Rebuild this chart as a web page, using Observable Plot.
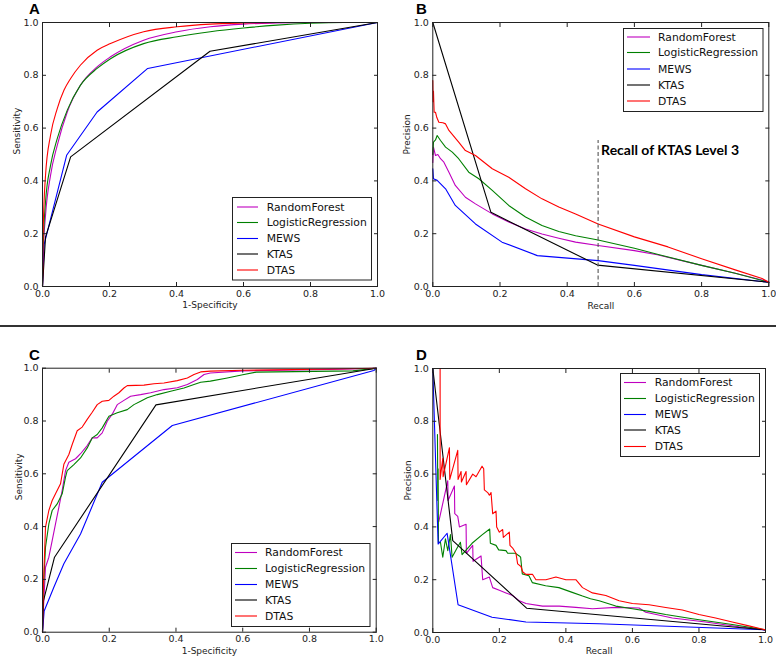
<!DOCTYPE html>
<html><head><meta charset="utf-8">
<script src="https://cdn.jsdelivr.net/npm/d3@7"></script>
<script src="https://cdn.jsdelivr.net/npm/@observablehq/plot@0.6"></script>
<style>
body{margin:0;background:#fff;}
#wrap{position:relative;width:776px;height:659px;overflow:hidden;background:#fff;font-family:"DejaVu Sans",sans-serif;}
.panel{position:absolute;}
#overlay{position:absolute;left:0;top:0;}
</style>
</head><body><div id="wrap"></div>
<script>
// ---------- series names & colours ----------
const SERIES = ["RandomForest","LogisticRegression","MEWS","KTAS","DTAS"];
const COLORS = ["#bf00bf","#008000","#0000ff","#000000","#ff0000"];
const TICKS = [0,0.2,0.4,0.6,0.8,1.0];

// ---------- Panel A : ROC (x = 1-Specificity, y = Sensitivity) ----------
const A_RF = [[0,0],[0.002,0.118],[0.009,0.269],[0.024,0.421],[0.044,0.535],[0.074,0.661],[0.113,0.762],[0.163,0.832],[0.203,0.87],[0.302,0.933],[0.402,0.965],[0.501,0.984],[0.6,0.994],[0.7,0.998],[0.8,1.0],[1,1]];
const A_LR = [[0,0],[0.002,0.143],[0.009,0.32],[0.024,0.459],[0.044,0.56],[0.074,0.668],[0.113,0.762],[0.163,0.826],[0.203,0.863],[0.302,0.92],[0.402,0.946],[0.501,0.965],[0.6,0.979],[0.7,0.99],[0.8,0.997],[0.9,1.0],[1,1]];
const A_MEWS = [[0,0],[0.005,0.16],[0.072,0.497],[0.163,0.661],[0.314,0.826],[1,1]];
const A_KTAS = [[0,0],[0.009,0.187],[0.084,0.491],[0.5,0.891],[1,1]];
const A_DTAS = [[0,0],[0.002,0.21],[0.009,0.42],[0.024,0.573],[0.044,0.674],[0.064,0.743],[0.084,0.788],[0.113,0.838],[0.163,0.895],[0.203,0.92],[0.302,0.965],[0.402,0.984],[0.501,0.994],[0.6,0.998],[0.7,1.0],[1,1]];

// ---------- Panel B : Precision-Recall ----------
const B_RF = [[0,0.47],[0.002,0.528],[0.008,0.496],[0.015,0.5],[0.023,0.484],[0.033,0.471],[0.048,0.433],[0.067,0.383],[0.097,0.338],[0.127,0.313],[0.177,0.275],[0.226,0.244],[0.276,0.218],[0.325,0.199],[0.375,0.183],[0.425,0.168],[0.492,0.155],[0.6,0.136],[0.668,0.12],[0.8,0.08],[0.9,0.05],[1,0.018]];
const B_LR = [[0,0.5],[0.002,0.547],[0.008,0.555],[0.013,0.572],[0.023,0.553],[0.038,0.528],[0.058,0.509],[0.077,0.484],[0.107,0.433],[0.137,0.408],[0.177,0.364],[0.226,0.307],[0.276,0.263],[0.325,0.231],[0.375,0.208],[0.425,0.192],[0.492,0.176],[0.6,0.145],[0.668,0.122],[0.8,0.08],[0.9,0.05],[1,0.016]];
const B_MEWS = [[0,0.446],[0.002,0.408],[0.013,0.402],[0.038,0.37],[0.067,0.307],[0.127,0.237],[0.206,0.168],[0.311,0.117],[0.492,0.098],[0.6,0.08],[0.8,0.045],[1,0.016]];
const B_KTAS = [[0,1],[0.173,0.281],[0.49,0.081],[1,0.016]];
const B_DTAS = [[0,0.78],[0.001,0.7],[0.002,0.74],[0.004,0.66],[0.008,0.66],[0.012,0.64],[0.018,0.622],[0.03,0.62],[0.038,0.616],[0.048,0.591],[0.077,0.547],[0.097,0.515],[0.127,0.496],[0.177,0.446],[0.226,0.414],[0.276,0.37],[0.325,0.332],[0.375,0.301],[0.425,0.275],[0.492,0.237],[0.6,0.188],[0.7,0.15],[0.8,0.105],[0.9,0.063],[0.98,0.03],[1,0.016]];
const B_KTAS_LEVEL3_RECALL = 0.492;
const B_MARKER_TOP = 0.553;
const B_NOTE = "Recall of KTAS Level 3";

// ---------- Panel C : ROC (external validation) ----------
const C_RF = [[0,0],[0.002,0.069],[0.009,0.246],[0.019,0.284],[0.029,0.347],[0.039,0.41],[0.049,0.473],[0.059,0.537],[0.069,0.612],[0.079,0.644],[0.099,0.657],[0.114,0.676],[0.134,0.707],[0.149,0.736],[0.164,0.736],[0.179,0.755],[0.194,0.799],[0.209,0.826],[0.224,0.862],[0.244,0.878],[0.264,0.894],[0.294,0.9],[0.324,0.907],[0.364,0.919],[0.404,0.926],[0.434,0.938],[0.464,0.957],[0.484,0.976],[0.503,0.982],[0.6,0.99],[0.9,0.996],[1,1]];
const C_LR = [[0,0],[0.002,0.145],[0.009,0.322],[0.019,0.41],[0.029,0.461],[0.044,0.486],[0.059,0.524],[0.069,0.587],[0.074,0.612],[0.094,0.635],[0.114,0.66],[0.134,0.698],[0.149,0.736],[0.164,0.749],[0.179,0.774],[0.199,0.818],[0.224,0.831],[0.254,0.843],[0.274,0.862],[0.294,0.875],[0.314,0.888],[0.344,0.9],[0.384,0.913],[0.424,0.925],[0.454,0.938],[0.474,0.947],[0.503,0.951],[0.55,0.962],[0.6,0.975],[0.64,0.985],[0.93,0.99],[1,1]];
const C_MEWS = [[0,0],[0.005,0.08],[0.034,0.17],[0.064,0.259],[0.114,0.372],[0.179,0.568],[0.389,0.783],[0.993,0.991],[1,1]];
const C_KTAS = [[0,0],[0.003,0.12],[0.036,0.284],[0.34,0.861],[1,1]];
const C_DTAS = [[0,0],[0.002,0.15],[0.004,0.221],[0.009,0.398],[0.019,0.461],[0.029,0.499],[0.039,0.524],[0.054,0.562],[0.064,0.636],[0.079,0.673],[0.089,0.711],[0.104,0.763],[0.119,0.777],[0.134,0.806],[0.149,0.833],[0.164,0.862],[0.179,0.875],[0.199,0.878],[0.214,0.894],[0.229,0.907],[0.244,0.925],[0.254,0.934],[0.304,0.936],[0.334,0.941],[0.364,0.944],[0.404,0.953],[0.434,0.963],[0.454,0.976],[0.474,0.986],[0.503,0.989],[0.6,0.992],[0.87,0.997],[1,1]];

// ---------- Panel D : Precision-Recall (external validation) ----------
const D_RF = [[0.018,0.42],[0.045,0.575],[0.046,0.5],[0.065,0.555],[0.066,0.45],[0.075,0.44],[0.08,0.40],[0.1,0.41],[0.101,0.30],[0.12,0.33],[0.121,0.27],[0.145,0.29],[0.15,0.2],[0.17,0.21],[0.18,0.17],[0.2,0.16],[0.22,0.15],[0.24,0.14],[0.26,0.12],[0.28,0.11],[0.33,0.1],[0.38,0.1],[0.43,0.095],[0.48,0.09],[0.55,0.095],[0.62,0.093],[0.64,0.077],[0.72,0.055],[0.82,0.04],[0.92,0.022],[1,0.01]];
const D_LR = [[0.014,0.75],[0.015,0.5],[0.016,0.62],[0.017,0.34],[0.023,0.342],[0.03,0.285],[0.038,0.355],[0.045,0.31],[0.053,0.371],[0.058,0.285],[0.073,0.32],[0.083,0.342],[0.088,0.295],[0.118,0.338],[0.148,0.37],[0.171,0.392],[0.173,0.338],[0.19,0.33],[0.198,0.313],[0.22,0.31],[0.225,0.3],[0.248,0.3],[0.26,0.29],[0.264,0.285],[0.269,0.222],[0.289,0.215],[0.299,0.189],[0.339,0.177],[0.379,0.17],[0.419,0.152],[0.45,0.138],[0.474,0.128],[0.5,0.12],[0.55,0.1],[0.6,0.09],[0.65,0.08],[0.7,0.068],[0.78,0.052],[0.9,0.03],[1,0.01]];
const D_MEWS = [[0,1],[0.016,0.335],[0.043,0.376],[0.076,0.105],[0.178,0.058],[0.28,0.04],[0.5,0.033],[1,0.01]];
const D_KTAS = [[0,1],[0.06,0.348],[0.282,0.092],[1,0.01]];
const D_DTAS = [[0.022,1.0],[0.022,0.58],[0.03,0.66],[0.031,0.59],[0.05,0.70],[0.051,0.58],[0.075,0.69],[0.076,0.58],[0.085,0.61],[0.086,0.57],[0.1,0.61],[0.101,0.56],[0.12,0.60],[0.13,0.59],[0.148,0.63],[0.153,0.62],[0.155,0.54],[0.165,0.53],[0.17,0.52],[0.175,0.53],[0.18,0.45],[0.19,0.46],[0.192,0.40],[0.2,0.38],[0.21,0.39],[0.212,0.36],[0.23,0.38],[0.232,0.33],[0.24,0.32],[0.25,0.3],[0.255,0.26],[0.265,0.25],[0.27,0.23],[0.28,0.22],[0.3,0.22],[0.31,0.2],[0.34,0.2],[0.37,0.21],[0.4,0.2],[0.43,0.2],[0.45,0.17],[0.48,0.15],[0.52,0.14],[0.56,0.12],[0.6,0.11],[0.65,0.105],[0.7,0.095],[0.75,0.085],[0.8,0.068],[0.85,0.055],[0.9,0.04],[0.95,0.025],[1.0,0.01]];

// ---------- layout ----------
const PANELS = [
  {letter:"A", series:[A_RF,A_LR,A_MEWS,A_KTAS,A_DTAS], smooth:true, xLabel:"1-Specificity", yLabel:"Sensitivity",
   left:0, top:0, w:388, h:325, ml:42, mr:11, mt:22, mb:39, ylab:-25, xlab:21,
   letterPos:[29,13.5], leg:{l:232.5,t:197.5,w:139,h:82.5,x0:237,x1:258,tx:266.7,rows:[207,222.5,238.5,254,270]}},
  {letter:"B", series:[B_RF,B_LR,B_MEWS,B_KTAS,B_DTAS], smooth:false, xLabel:"Recall", yLabel:"Precision",
   left:388, top:0, w:388, h:325, ml:44.3, mr:7.7, mt:22, mb:39, ylab:-25.3, xlab:22, note:true,
   letterPos:[416,13.5], leg:{l:623.5,t:28.5,w:139.5,h:83,x0:627,x1:650,tx:658,rows:[37,52.5,69,85,101]}},
  {letter:"C", series:[C_RF,C_LR,C_MEWS,C_KTAS,C_DTAS], smooth:false, xLabel:"1-Specificity", yLabel:"Sensitivity",
   left:0, top:330, w:388, h:329, ml:42, mr:12.3, mt:37.7, mb:27.3, ylab:-23.7, xlab:21.3,
   letterPos:[29,359.5], leg:{l:231.5,t:543.5,w:138.5,h:83,x0:235,x1:257,tx:265,rows:[552.5,568.5,584.5,600,616]}},
  {letter:"D", series:[D_RF,D_LR,D_MEWS,D_KTAS,D_DTAS], smooth:false, xLabel:"Recall", yLabel:"Precision",
   left:388, top:330, w:388, h:329, ml:44.3, mr:11, mt:38, mb:27, ylab:-24.3, xlab:21,
   letterPos:[416,359.5], leg:{l:620.5,t:373.5,w:139,h:83,x0:624,x1:646,tx:654.7,rows:[382.5,398.5,414.5,430,446.5]}}
];

const wrap = document.getElementById("wrap");
const fmt = d3.format(".1f");
const blank = () => "";

for (const p of PANELS) {
  const lines = p.series.map((s, i) => Plot.line(s, {
    x: d => d[0], y: d => d[1], stroke: COLORS[i], strokeWidth: 1.1,
    curve: (p.smooth && (i === 0 || i === 1 || i === 4)) ? "monotone-x" : "linear"
  }));
  const extra = [];
  if (p.note) {
    extra.push(Plot.ruleX([B_KTAS_LEVEL3_RECALL], {y1: 0, y2: B_MARKER_TOP, stroke: "#555", strokeWidth: 1.1, strokeDasharray: "4,2.5"}));
    extra.push(Plot.text([B_NOTE], {x: B_KTAS_LEVEL3_RECALL, y: 0.515, text: d => d, textAnchor: "start", dx: 3,
      fontFamily: "Lato", fontWeight: "bold", fontSize: 14, fill: "#000"}));
  }
  const chart = Plot.plot({
    width: p.w, height: p.h, marginLeft: p.ml, marginRight: p.mr, marginTop: p.mt, marginBottom: p.mb,
    x: {domain: [0, 1]}, y: {domain: [0, 1]},
    style: {fontFamily: "DejaVu Sans", fontSize: "9.5px", color: "#222", background: "transparent", overflow: "visible"},
    marks: [
      ...lines,
      ...extra,
      Plot.frame({stroke: "#222", strokeWidth: 1}),
      Plot.axisX(TICKS, {anchor: "bottom", tickSize: 0, tickPadding: 3.5, tickFormat: fmt, label: null}),
      Plot.axisY(TICKS, {anchor: "left", tickSize: 0, tickPadding: 4, tickFormat: fmt, label: null}),
      Plot.axisX(TICKS, {anchor: "bottom", tickSize: -4, tickFormat: blank, label: null, stroke: "#222"}),
      Plot.axisX(TICKS, {anchor: "top", tickSize: -4, tickFormat: blank, label: null, stroke: "#222"}),
      Plot.axisY(TICKS, {anchor: "left", tickSize: -4, tickFormat: blank, label: null, stroke: "#222"}),
      Plot.axisY(TICKS, {anchor: "right", tickSize: -4, tickFormat: blank, label: null, stroke: "#222"}),
      Plot.text([p.xLabel], {frameAnchor: "bottom", dy: p.xlab, text: d => d, fontSize: 9, fill: "#222"}),
      Plot.text([p.yLabel], {frameAnchor: "left", dx: p.ylab, rotate: -90, text: d => d, fontSize: 9, fill: "#222"})
    ]
  });
  chart.classList.add("panel");
  chart.style.left = p.left + "px";
  chart.style.top = p.top + "px";
  wrap.appendChild(chart);
}

// overlay: panel letters, legends, separator
const svg = d3.select(wrap).append("svg").attr("id", "overlay")
  .attr("width", 776).attr("height", 659);
svg.append("rect").attr("x", 0).attr("y", 325).attr("width", 776).attr("height", 2).attr("fill", "#333");
for (const p of PANELS) {
  svg.append("text").attr("x", p.letterPos[0]).attr("y", p.letterPos[1])
    .attr("font-family", "Liberation Sans, Arial, sans-serif").attr("font-weight", "bold")
    .attr("font-size", 15).attr("fill", "#000").text(p.letter);
  const g = p.leg;
  svg.append("rect").attr("x", g.l).attr("y", g.t).attr("width", g.w).attr("height", g.h)
    .attr("fill", "#fff").attr("stroke", "#222").attr("stroke-width", 1);
  SERIES.forEach((name, i) => {
    svg.append("line").attr("x1", g.x0).attr("x2", g.x1).attr("y1", g.rows[i]).attr("y2", g.rows[i])
      .attr("stroke", COLORS[i]).attr("stroke-width", 1.1);
    svg.append("text").attr("x", g.tx).attr("y", g.rows[i]).attr("dy", "0.36em")
      .attr("font-family", "DejaVu Sans").attr("font-size", 10.8).attr("fill", "#111").text(name);
  });
}
</script>
</body></html>
